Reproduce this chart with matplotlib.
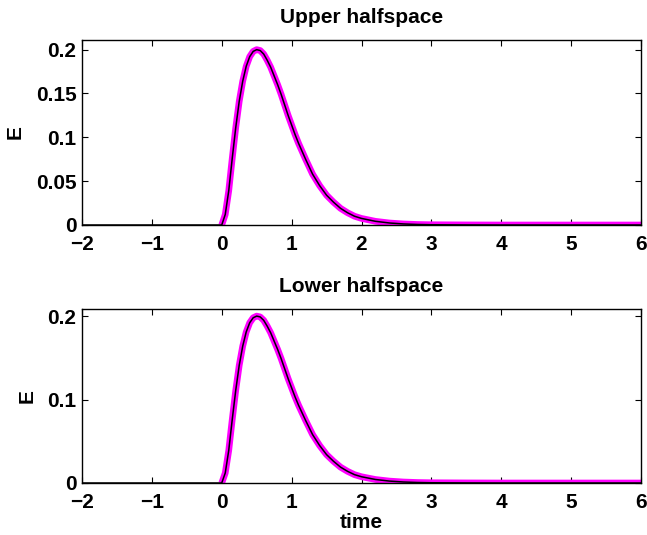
import matplotlib
matplotlib.use("Agg")
import matplotlib.pyplot as plt

plt.rcParams['font.family'] = ['Liberation Sans', 'DejaVu Sans']
plt.rcParams['font.weight'] = 'bold'

# Field pulse E(t) sampled on a time grid
time = [-2.0, -1.0, 0.0, 0.05, 0.1, 0.15, 0.2, 0.25, 0.3, 0.35, 0.4, 0.45, 0.5,
        0.55, 0.6, 0.65, 0.7, 0.75, 0.8, 0.85, 0.9, 0.95, 1.0, 1.05, 1.1,
        1.2, 1.3, 1.4, 1.5, 1.6, 1.7, 1.8, 1.9, 2.0, 2.2, 2.4, 2.6, 2.8,
        3.0, 3.5, 4.0, 5.0, 6.0]
E_upper = [0.0, 0.0, 0.0, 0.012, 0.039, 0.076, 0.111, 0.141, 0.164, 0.181, 0.192,
           0.198, 0.200, 0.199, 0.195, 0.188, 0.180, 0.170, 0.160, 0.149, 0.137,
           0.125, 0.114, 0.103, 0.093, 0.075, 0.058, 0.045, 0.034, 0.026, 0.019,
           0.014, 0.010, 0.0075, 0.0042, 0.0023, 0.0012, 0.0006, 0.0003, 0.0001,
           0.0, 0.0, 0.0]
E_lower = list(E_upper)

titles = ["Upper halfspace", "Lower halfspace"]
ylims = [0.211, 0.2085]
yticks = [[0, 0.05, 0.1, 0.15, 0.2], [0, 0.1, 0.2]]
ytick_labels = [["0", "0.05", "0.1", "0.15", "0.2"], ["0", "0.1", "0.2"]]
xticks = [-2, -1, 0, 1, 2, 3, 4, 5, 6]
xtick_labels = ["\u22122", "\u22121", "0", "1", "2", "3", "4", "5", "6"]

W, H = 647, 535
fig = plt.figure(figsize=(W / 100, H / 100), dpi=100)
boxes = [(82, 40, 641, 225), (82, 309, 641, 483)]

fs = 15
for i, (series, (x0, y0, x1, y1)) in enumerate(zip([E_upper, E_lower], boxes)):
    ax = fig.add_axes([x0 / W, 1 - y1 / H, (x1 - x0) / W, (y1 - y0) / H])
    start = time.index(0.0)
    ax.plot(time[start:], series[start:], color=(1, 0, 1), lw=4.8,
            solid_capstyle='butt', zorder=2)
    ax.plot(time, series, color='black', lw=1.1, zorder=3)
    ax.set_xlim(-2, 6)
    ax.set_ylim(0, ylims[i])
    ax.set_xticks(xticks)
    ax.set_xticklabels(xtick_labels, fontsize=fs, fontweight='bold')
    ax.set_yticks(yticks[i])
    ax.set_yticklabels(ytick_labels[i], fontsize=fs, fontweight='bold')
    ax.tick_params(direction='in', length=4, width=0.8, top=True, right=True)
    ax.tick_params(axis='x', pad=7)
    ax.tick_params(axis='y', pad=4)
    for sp in ax.spines.values():
        sp.set_linewidth(1.0)
    ax.set_title(titles[i], fontsize=fs, fontweight='bold', pad=12)
    ax.set_ylabel("E", fontsize=fs, fontweight='bold', labelpad=8)
    if i == 1:
        ax.set_xlabel("time", fontsize=fs, fontweight='bold', labelpad=1)

fig.savefig("out.png", dpi=100)
